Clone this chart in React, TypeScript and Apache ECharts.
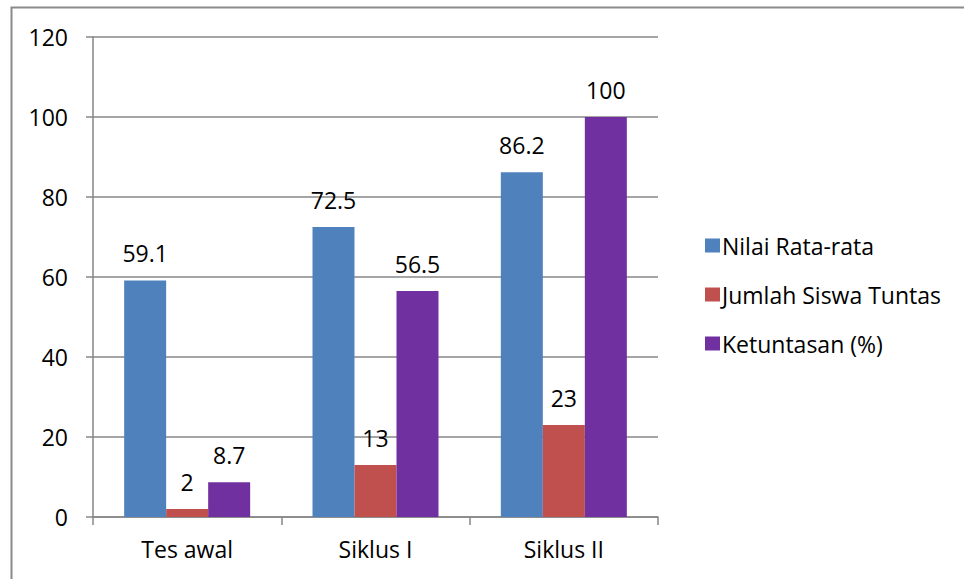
import React, { useEffect, useRef } from "react";
import * as echarts from "echarts";

const categories = ["Tes awal", "Siklus I", "Siklus II"];
const nilaiRataRata = [59.1, 72.5, 86.2];
const jumlahSiswaTuntas = [2, 13, 23];
const ketuntasan = [8.7, 56.5, 100];
const seriesNames = ["Nilai Rata-rata", "Jumlah Siswa Tuntas", "Ketuntasan (%)"];
const seriesColors = ["#4F81BD", "#C0504D", "#7030A0"];

const FONT = "'Open Sans', Lato, sans-serif";
const FONT_SIZE = 23;
const AXIS_GRAY = "#878787";

export default function App() {
  const ref = useRef<HTMLDivElement>(null);

  useEffect(() => {
    if (!ref.current) return;
    const chart = echarts.init(ref.current, undefined, { renderer: "svg" });
    const values = [nilaiRataRata, jumlahSiswaTuntas, ketuntasan];

    chart.setOption({
      animation: false,
      backgroundColor: "#ffffff",
      textStyle: { fontFamily: FONT, color: "#000" },
      graphic: [
        {
          type: "rect",
          shape: { x: 11.5, y: 7.5, width: 1000, height: 1000 },
          style: { fill: "none", stroke: "#8a8a8a", lineWidth: 2 },
          silent: true,
        },
      ],
      grid: { left: 93, right: 306, top: 37, bottom: 62 },
      legend: {
        orient: "vertical",
        left: 700,
        top: 229,
        itemWidth: 15,
        itemHeight: 14,
        itemGap: 26,
        icon: "rect",
        textStyle: { fontFamily: FONT, fontSize: FONT_SIZE, color: "#000", padding: [0, 0, 0, -3] },
        data: seriesNames,
      },
      xAxis: {
        type: "category",
        data: categories,
        axisLine: { show: true, lineStyle: { color: AXIS_GRAY, width: 1.5 } },
        axisTick: { show: true, length: 8, inside: false, lineStyle: { color: AXIS_GRAY, width: 1.5 } },
        axisLabel: { fontFamily: FONT, fontSize: FONT_SIZE, color: "#000", margin: 20 },
        splitLine: { show: false },
      },
      yAxis: {
        type: "value",
        min: 0,
        max: 120,
        interval: 20,
        axisLine: { show: true, lineStyle: { color: AXIS_GRAY, width: 1.5 } },
        axisTick: { show: true, length: 7, inside: false, lineStyle: { color: AXIS_GRAY, width: 1.5 } },
        axisLabel: { fontFamily: FONT, fontSize: FONT_SIZE, color: "#000", margin: 25 },
        splitLine: { show: true, lineStyle: { color: AXIS_GRAY, width: 1.5 } },
      },
      series: seriesNames.map((name, i) => ({
        name,
        type: "bar",
        data: values[i],
        barWidth: 42,
        barGap: "0%",
        itemStyle: { color: seriesColors[i] },
        label: {
          show: true,
          position: "top",
          distance: 16,
          fontFamily: FONT,
          fontSize: FONT_SIZE,
          color: "#000",
        },
      })),
    });

    return () => chart.dispose();
  }, []);

  return (
    <div
      ref={ref}
      style={{ position: "fixed", left: 0, top: 0, width: 964, height: 579 }}
    />
  );
}
